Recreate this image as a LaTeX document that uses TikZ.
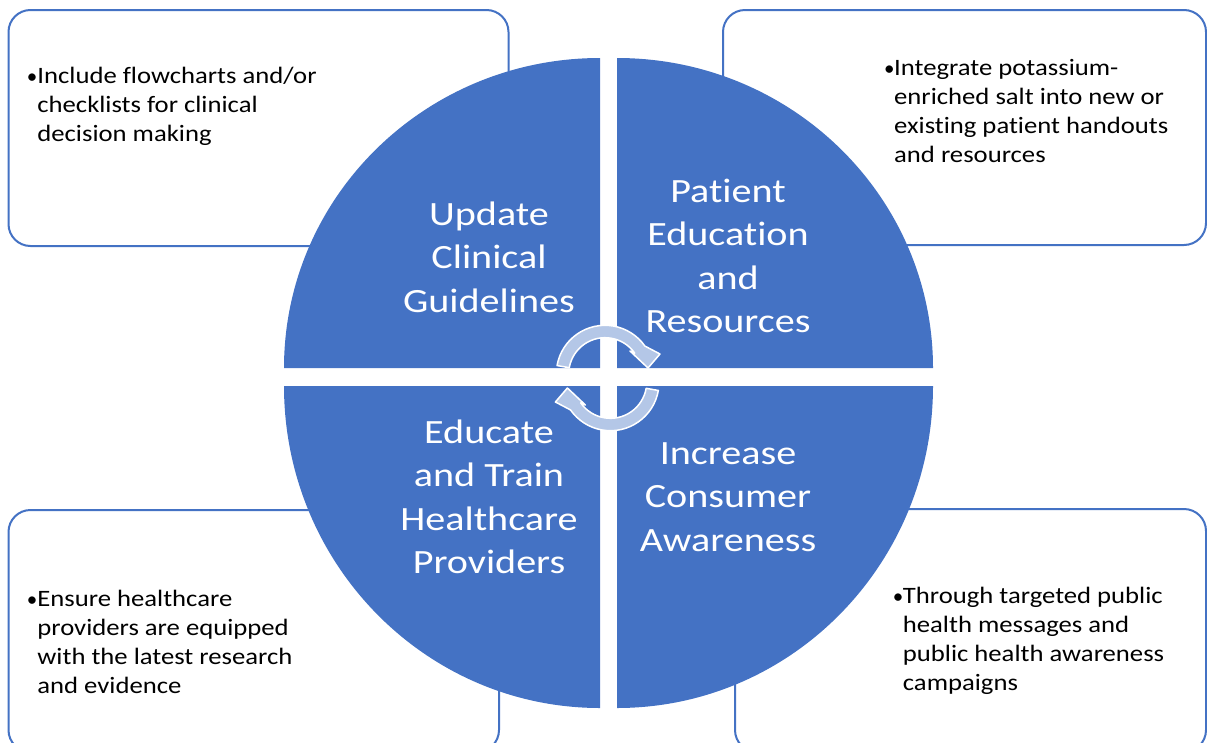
\documentclass[tikz,border=0pt]{standalone}
\usepackage{fontspec}
\setmainfont{Carlito}[Ligatures=NoCommon]
\newfontfamily\notefont{Carlito}[FakeStretch=1.135, Ligatures=NoCommon]
\newfontfamily\titlefont{Carlito}[FakeStretch=1.18, Ligatures=NoCommon]
\usetikzlibrary{calc}
\definecolor{accent}{HTML}{4472C4}
\definecolor{accentlight}{HTML}{B4C7E7}
\newcommand{\dotmark}{{\rmfamily\fontsize{21}{29}\selectfont\textbullet}}
\tikzstyle{quad} = [fill=accent]
\tikzstyle{note} = [draw=accent, line width=2pt, fill=white, rounded corners=22pt]
\tikzstyle{title} = [text=white, align=center, inner sep=0pt,
                     font=\titlefont\fontsize{34}{43.5}\selectfont]
\tikzstyle{bullets} = [anchor=base west, inner sep=0pt,
                       font=\notefont\fontsize{23.5}{29}\selectfont]
\tikzstyle{turnarrow} = [fill=accentlight, draw=white, line width=1.5pt, line join=round]

\begin{document}
\begin{tikzpicture}[x=1pt, y=-1pt]
    \useasboundingbox (0,0) rectangle (1207,742);
    \clip (0,0) rectangle (1207,742);
    % outer boxes
    \draw[note] (8.5,10) rectangle (508.5,246);
    \draw[note] (723,10) rectangle (1206,245);
    \draw[note] (8.5,510) rectangle (499,752);
    \draw[note] (735,509) rectangle (1206,752);
    % the four quarters
    \fill[quad] (600,368) -- (284,368) arc[start angle=180, end angle=270, x radius=316, y radius=310] -- cycle;
    \fill[quad] (617,368) -- (617,58) arc[start angle=270, end angle=360, x radius=316, y radius=310] -- cycle;
    \fill[quad] (617,386) -- (933,386) arc[start angle=0, end angle=90, x radius=316, y radius=322] -- cycle;
    \fill[quad] (600,386) -- (600,708) arc[start angle=90, end angle=180, x radius=316, y radius=322] -- cycle;
    % titles
    \node[title] (guide) at (489,257) {Update\\Clinical\\Guidelines};
    \node[title] (patient) at (728,256) {Patient\\Education\\and\\Resources};
    \node[title] (train) at (489,497) {Educate\\and Train\\Healthcare\\Providers};
    \node[title] (aware) at (728,497) {Increase\\Consumer\\Awareness};
    % bullet texts
    \node[bullets] (guidetext) at (26.7,83.3) {\begin{tabular}[t]{@{}p{10.5pt}@{}l@{}}
        \dotmark & Include flowcharts and/or\\ & checklists for clinical\\ & decision making\end{tabular}};
    \node[bullets] (patienttext) at (884,75) {\begin{tabular}[t]{@{}p{10pt}@{}l@{}}
        \dotmark & Integrate potassium-\\ & enriched salt into new or\\ & existing patient handouts\\ & and resources\end{tabular}};
    \node[bullets] (traintext) at (26.7,606) {\begin{tabular}[t]{@{}p{10.5pt}@{}l@{}}
        \dotmark & Ensure healthcare\\ & providers are equipped\\ & with the latest research\\ & and evidence\end{tabular}};
    \node[bullets] (awaretext) at (892.7,603.3) {\begin{tabular}[t]{@{}p{10pt}@{}l@{}}
        \dotmark & Through targeted public\\ & health messages and\\ & public health awareness\\ & campaigns\end{tabular}};
    % circular arrows in the middle
    \coordinate (upper) at (605,374);
    \coordinate (lower) at (610.4,382);
    \draw[turnarrow] ($(upper)+(190:48.7)$) arc[start angle=190, end angle=325, radius=48.7]
        -- (660,354) -- (648,368) -- (630,351)
        -- ($(upper)+(325:36.3)$) arc[start angle=325, end angle=190, radius=36.3] -- cycle;
    \draw[turnarrow] ($(lower)+(10:48.7)$) arc[start angle=10, end angle=145, radius=48.7]
        -- (555.4,402) -- (567.4,388) -- (585.4,405)
        -- ($(lower)+(145:36.3)$) arc[start angle=145, end angle=10, radius=36.3] -- cycle;
\end{tikzpicture}
\end{document}
